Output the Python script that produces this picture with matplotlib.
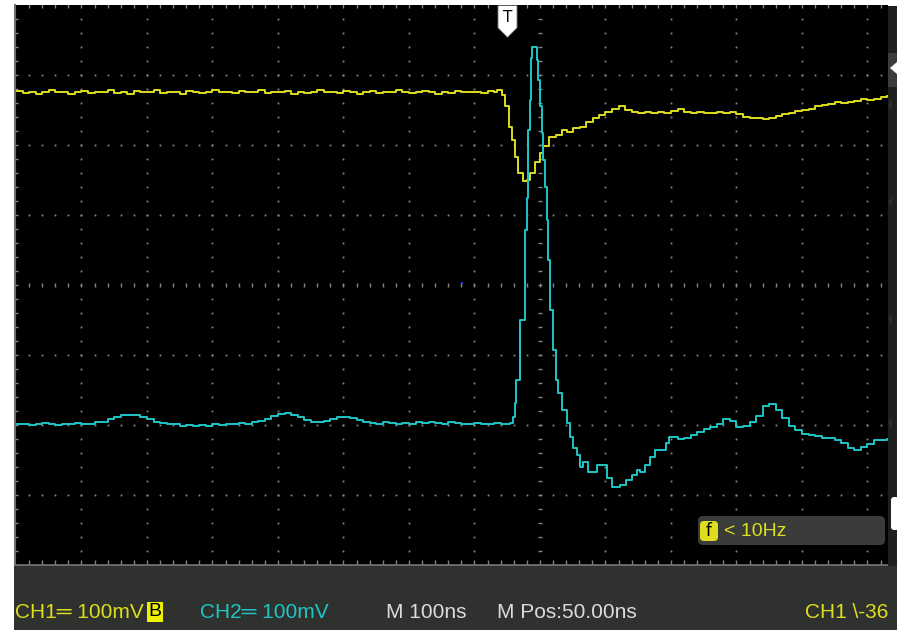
import numpy as np
import matplotlib.pyplot as plt
from matplotlib.patches import Rectangle, FancyBboxPatch, Polygon

W, H = 907, 630

# CH1 (yellow) - time in ns, level in mV
ch1_t_flat = list(range(-800, -60, 10))
ch1_v_flat = [277, 274, 276, 273, 276, 278, 275, 276, 273, 276,
              277, 274, 276, 275, 278, 274, 276, 273, 277, 275,
              276, 278, 274, 276, 275, 273, 277, 276, 274, 276,
              278, 275, 276, 274, 277, 275, 276, 278, 274, 276,
              275, 277, 273, 276, 274, 276, 278, 275, 276, 274,
              277, 275, 273, 276, 277, 274, 276, 275, 278, 276,
              274, 276, 277, 275, 273, 276, 274, 277, 276, 275,
              276, 274, 277, 275]
ch1_t_edge = [-66, -58, -53, -48, -43, -38, -33, -26, -20, -15, -8, 0,
              5, 13, 25, 33, 41, 51, 61, 71, 81, 90]
ch1_v_edge = [279, 271, 255, 226, 207, 183, 160, 148, 150, 160, 176, 188,
              198, 212, 214, 221, 219, 224, 226, 233, 238, 243]
ch1_t_tail = list(range(100, 540, 10))
ch1_v_tail = [247, 252, 255, 250, 247, 246, 247, 245, 247, 246,
              248, 251, 247, 246, 247, 245, 246, 247, 246, 247,
              244, 240, 238, 239, 237, 238, 241, 244, 246, 248,
              250, 252, 255, 257, 258, 261, 260, 262, 263, 265,
              264, 266, 269, 270]

# CH2 (cyan)
ch2_t_flat = list(range(-800, -40, 10))
ch2_v_flat = [-199, -198, -200, -199, -197, -199, -200, -198, -199, -197,
              -199, -198, -196, -195, -192, -189, -186, -185, -186, -189,
              -192, -195, -197, -198, -199, -201, -200, -202, -200, -201,
              -199, -200, -198, -199, -197, -198, -196, -194, -191, -187,
              -184, -183, -185, -189, -193, -195, -196, -194, -192, -189,
              -188, -190, -193, -195, -197, -198, -196, -197, -199, -197,
              -198, -196, -197, -195, -197, -198, -196, -197, -199, -198,
              -197, -199, -198, -197, -198, -199]
ch2_t_pulse = [-46, -41, -38, -36, -31, -23, -20, -19, -16, -14, -13, -12,
               -8, -4, -3, 0, 3, 5, 8, 10, 12, 15, 20, 24, 28, 33, 41, 46,
               50, 56, 61, 66, 74, 81, 87, 97, 102, 110, 122, 132, 140, 148,
               153, 160, 168, 176, 186, 193, 197, 210]
ch2_v_pulse = [-197, -188, -169, -136, -50, 79, 124, 221, 264, 303, 324, 340,
               340, 321, 293, 255, 217, 179, 140, 93, 36, -36, -93, -136, -154,
               -179, -197, -217, -233, -243, -260, -253, -267, -267, -257,
               -257, -276, -289, -286, -279, -271, -264, -267, -257, -246,
               -236, -236, -226, -217, -220]
ch2_t_tail = list(range(220, 540, 10))
ch2_v_tail = [-219, -214, -210, -205, -203, -199, -192, -194, -203, -201,
              -195, -187, -173, -170, -178, -190, -201, -207, -213, -214,
              -216, -218, -219, -221, -226, -233, -236, -231, -227, -221,
              -222, -220]

ch1_t = ch1_t_flat + ch1_t_edge + ch1_t_tail
ch1_v = ch1_v_flat + ch1_v_edge + ch1_v_tail
ch2_t = ch2_t_flat + ch2_t_pulse + ch2_t_tail
ch2_v = ch2_v_flat + ch2_v_pulse + ch2_v_tail

trig_t = -50          # M Pos 50.00ns
t_min, t_max = -801.5, 531.3
v_min, v_max = -400, 400

YEL = "#dede1e"
CYA = "#1ec6c6"
GRID = "#858585"
FONT = ["Liberation Sans", "DejaVu Sans"]

fig = plt.figure(figsize=(W / 100, H / 100), dpi=100, facecolor="white")

# scope screen
ax = fig.add_axes([15 / W, 1 - 565 / H, 873 / W, 560 / H], facecolor="black")
ax.set_xlim(t_min, t_max)
ax.set_ylim(v_min, v_max)
ax.set_xticks([])
ax.set_yticks([])
for s in ["top", "right"]:
    ax.spines[s].set_visible(False)
ax.spines["left"].set_color("#6e6e6e")
ax.spines["left"].set_linewidth(1.5)
ax.spines["bottom"].set_color("#6e6e6e")
ax.spines["bottom"].set_linewidth(2)

# dotted graticule
dot_y = np.arange(-380, 400, 20)
dot_x = np.arange(-780, t_max, 20)
for gx in np.arange(-700, t_max, 100):
    if gx != 0:
        ax.plot(np.full(len(dot_y), gx), dot_y, ls="none", marker="s",
                ms=1.3, mew=0, color=GRID)
for gy in [-300, -200, -100, 100, 200, 300]:
    ax.plot(dot_x, np.full(len(dot_x), gy), ls="none", marker="s",
            ms=1.3, mew=0, color=GRID)
# centre axes with ticks
ax.plot(np.zeros(len(dot_y)), dot_y, ls="none", marker="_", ms=3.5, mew=1.0, color=GRID)
ax.plot(dot_x, np.zeros(len(dot_x)), ls="none", marker="|", ms=3.5, mew=1.0, color=GRID)
# edge ticks
ax.plot(dot_x, np.full(len(dot_x), v_max), ls="none", marker="|", ms=5, mew=1.0, color=GRID)
ax.plot(dot_x, np.full(len(dot_x), v_min), ls="none", marker="|", ms=7, mew=1.0, color=GRID)
ax.plot(np.full(len(dot_y), t_min), dot_y, ls="none", marker="_", ms=5, mew=1.0, color=GRID)

# traces
ax.plot(ch1_t, ch1_v, drawstyle="steps-post", color=YEL, lw=1.4)
ax.plot(ch2_t, ch2_v, drawstyle="steps-post", color=CYA, lw=1.4)

# stray blue pixel
ax.plot([-119], [3], ls="none", marker="s", ms=2, mew=0, color="#2040ff")

# trigger marker
shield = [(-0.6, 1), (0.6, 1), (0.6, -0.4), (0, -1), (-0.6, -0.4), (-0.6, 1)]
ax.plot([trig_t], [377], marker=shield, ms=23, mfc="white", mec="#555555",
        mew=0.6, clip_on=False, ls="none")
ax.text(trig_t, 382, "T", color="black", ha="center", va="center",
        fontsize=11, family="DejaVu Sans")

# filter box
ov = fig.add_axes([0, 0, 1, 1], facecolor="none")
ov.set_xlim(0, W)
ov.set_ylim(H, 0)
ov.set_axis_off()
ov.add_patch(FancyBboxPatch((698, 516), 187, 29, boxstyle="round,pad=0,rounding_size=5",
                            fc="#3a3c39", ec="none"))
ov.add_patch(FancyBboxPatch((700, 521), 18, 20, boxstyle="round,pad=0,rounding_size=4",
                            fc=YEL, ec="none"))
ov.text(709, 531, "f", color="black", ha="center", va="center", fontsize=12,
        family="DejaVu Sans")
ov.text(724, 531, "< 10Hz", color=YEL, ha="left", va="center", fontsize=14,
        family=FONT)

# right side strip
ar = fig.add_axes([888 / W, 1 - 566 / H, 9 / W, 560 / H], facecolor="#1d201d")
ar.set_xlim(888, 897)
ar.set_ylim(566, 6)
ar.set_xticks([])
ar.set_yticks([])
for s in ar.spines.values():
    s.set_visible(False)
ar.add_patch(Rectangle((888, 53), 9, 34, fc="#3a3d39", ec="none"))
ar.add_patch(Polygon([(890, 68), (897, 62), (897, 74)], fc="white", ec="none"))
for yy in [105, 202, 319, 423]:
    ar.add_patch(Polygon([(888, yy), (892, yy - 5), (892, yy + 5)], fc="#2c302c", ec="none"))
ar.add_patch(FancyBboxPatch((891, 497), 8, 33, boxstyle="round,pad=0,rounding_size=3",
                            fc="white", ec="none"))

# bottom status bar
ap = fig.add_axes([14 / W, 0, 883 / W, 64 / H], facecolor="#2f312e")
ap.set_xlim(14, 897)
ap.set_ylim(630, 566)
ap.set_xticks([])
ap.set_yticks([])
for s in ap.spines.values():
    s.set_visible(False)
fs = 15
ap.text(15, 612, "CH1\u2550 100mV", color=YEL, fontsize=fs, va="center", family=FONT)
ap.text(155, 612, "B", color="black", fontsize=fs - 1, va="center", ha="center", family=FONT,
        bbox=dict(boxstyle="square,pad=0.08", fc="#f0f000", ec="none"))
ap.text(200, 612, "CH2\u2550 100mV", color=CYA, fontsize=fs, va="center", family=FONT)
ap.text(386, 612, "M 100ns", color="#dcdcdc", fontsize=fs, va="center", family=FONT)
ap.text(497, 612, "M Pos:50.00ns", color="#dcdcdc", fontsize=fs, va="center", family=FONT)
ap.text(805, 612, "CH1 \\-36", color=YEL, fontsize=fs, va="center", family=FONT, clip_on=True)

fig.savefig("out.png", dpi=100, facecolor="white")
